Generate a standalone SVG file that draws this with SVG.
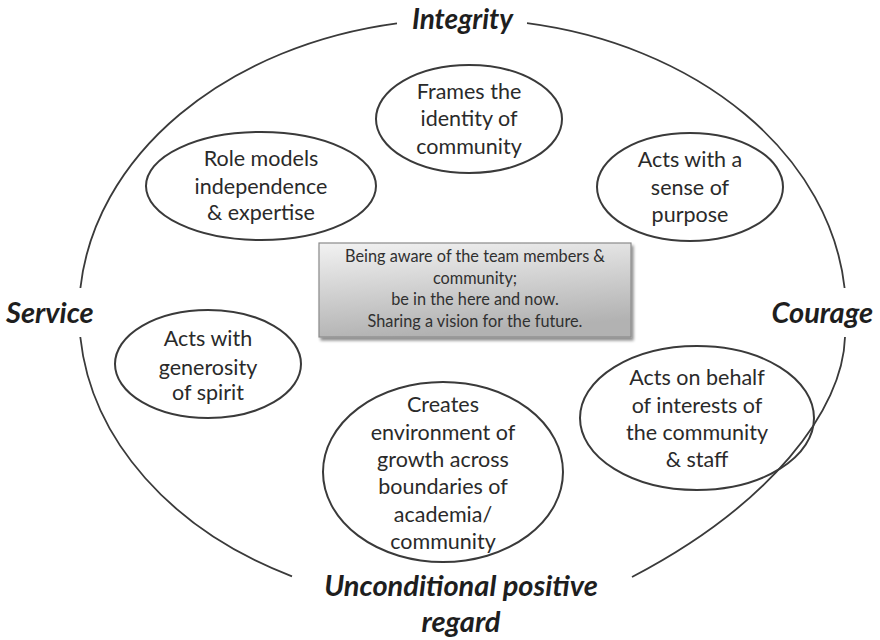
<svg xmlns="http://www.w3.org/2000/svg" width="880" height="640" viewBox="0 0 880 640">
  <style>
    .ring { fill: none; stroke: #3a3a3a; stroke-width: 1.8; }
    .node { fill: none; stroke: #3a3a3a; stroke-width: 2; }
    .txt { font-family: "Lato", "Open Sans", sans-serif; font-size: 21.5px; fill: #2a2a2a; text-anchor: middle; }
    .box { font-family: "Lato", "Open Sans", sans-serif; font-size: 16.3px; fill: #303030; text-anchor: middle; }
    .virtue { font-family: "Lato", "Open Sans", sans-serif; font-size: 29px; font-weight: bold; font-style: italic; fill: #1e1e1e; }
  </style>
  <defs>
    <linearGradient id="boxFill" x1="0" y1="0" x2="0.25" y2="1">
      <stop offset="0" stop-color="#f2f2f2"/>
      <stop offset="1" stop-color="#b2b2b2"/>
    </linearGradient>
    <filter id="drop" x="-5%" y="-10%" width="115%" height="130%">
      <feGaussianBlur in="SourceAlpha" stdDeviation="1.5"/>
      <feOffset dx="1.5" dy="2.5" result="off"/>
      <feComponentTransfer><feFuncA type="linear" slope="0.45"/></feComponentTransfer>
      <feMerge><feMergeNode/><feMergeNode in="SourceGraphic"/></feMerge>
    </filter>
  </defs>

  <rect width="880" height="640" fill="#ffffff"/>

  <!-- outer ring, broken where the four virtues sit -->
  <g id="connectors">
    <path class="ring" d="M397 23.3 A383.5 294 0 0 0 80.4 288"/>
    <path class="ring" d="M80.3 337 A383.5 294 0 0 0 292 576.3"/>
    <path class="ring" d="M845 337 C843 410 770 505 632 577"/>
    <path class="ring" d="M844.6 288 A383.5 294 0 0 0 527 23.2"/>
  </g>

  <!-- virtues -->
  <g id="integrity"><text class="virtue" x="462.5" y="29" text-anchor="middle" style="font-size:28px">Integrity</text></g>
  <g id="service"><text class="virtue" x="6" y="323">Service</text></g>
  <g id="courage"><text class="virtue" x="873" y="323" text-anchor="end">Courage</text></g>
  <g id="regard">
    <text class="virtue" x="461" y="596" text-anchor="middle">Unconditional positive</text>
    <text class="virtue" x="461" y="632" text-anchor="middle">regard</text>
  </g>

  <!-- qualities -->
  <g id="frames">
    <ellipse class="node" cx="469" cy="119" rx="93" ry="54"/>
    <text class="txt" x="469" y="99">Frames the</text>
    <text class="txt" x="469" y="126">identity of</text>
    <text class="txt" x="469" y="154">community</text>
  </g>

  <g id="role-models">
    <ellipse class="node" cx="261" cy="186" rx="115" ry="54"/>
    <text class="txt" x="261" y="166">Role models</text>
    <text class="txt" x="261" y="194">independence</text>
    <text class="txt" x="261" y="220">&amp; expertise</text>
  </g>

  <g id="purpose">
    <ellipse class="node" cx="690" cy="187" rx="93" ry="54"/>
    <text class="txt" x="690" y="167">Acts with a</text>
    <text class="txt" x="690" y="195">sense of</text>
    <text class="txt" x="690" y="222">purpose</text>
  </g>

  <g id="awareness">
    <rect x="319" y="243" width="312" height="94" fill="url(#boxFill)" stroke="#8a8a8a" stroke-width="1.2" filter="url(#drop)"/>
    <text class="box" x="475" y="262">Being aware of the team members &amp;</text>
    <text class="box" x="475" y="284">community;</text>
    <text class="box" x="475" y="305">be in the here and now.</text>
    <text class="box" x="475" y="327">Sharing a vision for the future.</text>
  </g>

  <g id="generosity">
    <ellipse class="node" cx="208" cy="364" rx="93" ry="54"/>
    <text class="txt" x="208" y="346">Acts with</text>
    <text class="txt" x="208" y="375">generosity</text>
    <text class="txt" x="208" y="400">of spirit</text>
  </g>

  <g id="behalf">
    <ellipse class="node" cx="697" cy="418" rx="117" ry="72"/>
    <text class="txt" x="697" y="385">Acts on behalf</text>
    <text class="txt" x="697" y="413">of interests of</text>
    <text class="txt" x="697" y="440">the community</text>
    <text class="txt" x="697" y="467">&amp; staff</text>
  </g>

  <g id="growth">
    <ellipse class="node" cx="443" cy="472" rx="120" ry="90"/>
    <text class="txt" x="443" y="412">Creates</text>
    <text class="txt" x="443" y="440">environment of</text>
    <text class="txt" x="443" y="467">growth across</text>
    <text class="txt" x="443" y="494">boundaries  of</text>
    <text class="txt" x="443" y="522">academia/</text>
    <text class="txt" x="443" y="549">community</text>
  </g>
</svg>
